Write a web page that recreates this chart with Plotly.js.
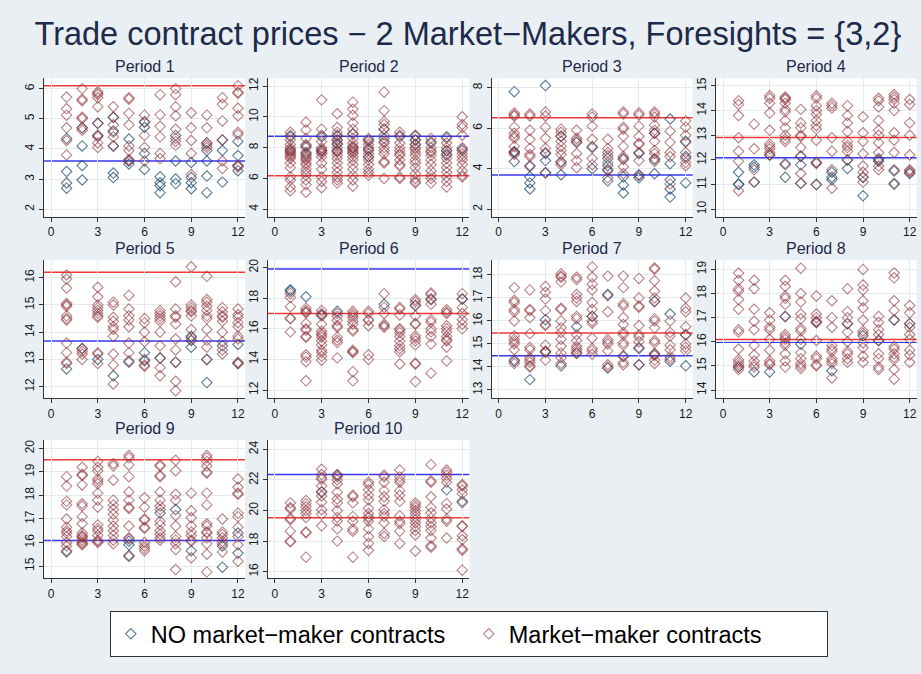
<!DOCTYPE html>
<html>
<head>
<meta charset="utf-8">
<script src="https://cdn.plot.ly/plotly-3.0.1.min.js"></script>
<style>html,body{margin:0;padding:0;background:#e9eff3;}#chart{width:921px;height:674px;}</style>
</head>
<body>
<div id="chart"></div>
<script>
// ---------- DATA ----------
const periods = ["Period 1","Period 2","Period 3","Period 4","Period 5","Period 6","Period 7","Period 8","Period 9","Period 10"];
const xTicks = [0, 3, 6, 9, 12];
const yTicks = [
  [2,3,4,5,6], [4,6,8,10,12], [2,4,6,8], [10,11,12,13,14,15],
  [12,13,14,15,16], [12,14,16,18,20], [13,14,15,16,17,18], [14,15,16,17,18,19],
  [15,16,17,18,19,20], [16,18,20,22,24]
];
// horizontal reference lines
const redLine  = [6.10, 6.17, 6.51, 12.91, 16.20, 17.00, 15.48, 16.09, 19.52, 19.52];
const blueLine = [3.60, 8.74, 3.69, 12.09, 13.68, 19.91, 14.49, 15.98, 16.08, 22.35];

// Each series: 12 lists of prices, one list per x = 1..12
const no1 = [[4.35,3.25,2.87,2.7],[4.7,4.1,3.45,2.97],[4.85,4.45],[5.05,4.6,4.1,3.2,3.05],[4.33,3.6,3.5],[4.9,4.72,3.85,3.32],[3.08,2.88,2.78,2.55],[4.45,3.6,3.0,2.85],[3.55,3.05,2.88,2.68],[4.2,3.95,3.6,3.1,2.55],[4.3,3.95,2.9],[4.25,3.78,3.45,3.28]];
const mm1 = [[5.72,5.33,5.12,4.7,4.28,3.8],[6.0,5.65,5.6,5.05,5.0,4.7,4.62],[5.9,5.85,5.8,5.7,5.4,4.85,4.45,4.4,4.2,4.05],[5.4,5.05,4.8,4.55,4.4,4.1],[5.7,5.65,5.18,4.8,4.1,3.95,3.65,3.6],[5.12,4.88,4.45,4.05,3.6],[5.8,5.13,4.75,4.4,3.85,3.68],[6.0,5.8,5.4,5.1,4.65,4.35,4.25,4.12],[5.2,4.7,4.28,3.85,3.15],[5.12,4.7,4.2,4.12,4.05],[5.7,5.48,4.93,4.3,3.6,3.35],[6.1,5.88,5.85,5.35,5.1,4.55,4.48,3.45,3.4]];

const no2 = [[8.7,7.8],[8.1,7.6],[8.7,7.8],[8.8,8.5,8.2,7.8],[8.9,8.0],[8.5,7.9,7.4],[9.2,8.6],[8.7],[8.75,8.5,8.2],[8.3],[8.7,7.8,7.5],[7.9]];
const mm2 = [[9.0,8.8,8.5,8.2,8.0,7.9,7.8,7.7,7.6,7.5,7.4,7.3,7.0,6.7,6.1,5.9,5.45,5.2],[9.65,9.15,8.6,8.2,8.0,7.7,7.5,7.4,7.3,7.2,7.0,6.85,6.6,6.4,6.2,5.9,5.6,5.1],[11.1,9.2,8.8,8.4,8.0,7.9,7.8,7.7,7.6,7.4,7.0,6.6,6.1,5.8,5.4],[10.2,9.3,9.0,8.7,8.5,8.3,8.0,7.8,7.7,7.5,7.3,7.0,6.7,6.4,6.1,5.9,5.7],[10.95,10.5,10.1,9.6,9.2,8.9,8.6,8.3,8.1,8.0,7.9,7.8,7.7,7.6,7.4,7.2,6.9,6.6,6.2,5.9,5.5],[8.6,8.4,8.2,8.0,7.8,7.6,7.4,7.2,6.9,6.6,6.4,6.2],[11.6,10.4,9.7,9.5,9.2,8.8,8.4,8.3,8.0,7.8,7.6,7.1,7.0,6.0],[9.0,8.8,8.3,8.0,7.8,7.6,7.5,7.2,6.9,6.8,6.1,6.0],[8.8,8.5,8.2,8.0,7.9,7.7,7.5,7.2,7.0,6.7,6.3,6.0,5.8,5.7],[8.6,8.4,8.0,7.8,7.7,7.5,7.2,6.9,6.5,6.2,6.0,5.7],[8.6,8.3,8.0,7.8,7.6,7.3,7.0,6.7,6.4,6.1,5.8,5.45],[10.0,9.5,9.3,8.8,8.0,7.8,7.6,7.4,7.2,6.9,6.5,6.2,6.1]];

const no3 = [[7.8,4.85,4.8,4.35],[4.15,3.6,3.3,3.0],[8.1,4.75,4.4,3.8],[5.6,4.35,3.7],[5.3],[5.05,4.0],[4.5,4.15,3.95,3.4],[4.5,3.6,3.2,2.8],[4.75,3.7,3.55],[5.75,4.45,3.75],[6.45,4.25,3.45,3.0,2.6],[5.35,4.6,3.3]];
const mm3 = [[6.75,6.65,6.6,6.05,5.75,5.6,5.5,5.1,4.8,4.7],[6.7,6.6,5.9,5.45,5.0,4.7,4.6,4.1],[6.8,6.6,6.05,5.5,5.0,4.8,3.8],[5.95,5.8,5.6,5.35,5.1,4.9,4.7,4.3,4.2],[5.9,5.5,5.4,5.3,4.75,4.4,4.05],[6.7,6.55,6.1,5.45,5.1,4.5,4.2],[5.45,5.0,4.8,4.65,4.3,3.9,3.55],[6.8,6.7,6.05,5.95,5.6,5.1,4.6,4.45,4.1,3.75],[6.75,6.65,6.1,5.6,5.25,5.2,4.8,4.4,3.65],[6.8,6.7,6.55,6.15,5.9,5.75,5.35,4.9,4.75,4.5,4.35],[5.85,5.3,4.8,4.6,3.25],[6.35,6.05,5.65,5.3,4.8,4.5,4.3,4.15]];

const no4 = [[11.5,11.0,11.02],[11.8,11.7,11.1],[12.2],[11.85,11.3],[12.15,11.8,11.05],[11.9,11.0],[11.5,11.3,11.2],[12.0,11.65],[11.3,10.55],[12.05,11.95],[11.55,11.05],[11.45]];
const mm4 = [[14.4,14.25,13.8,12.9,12.35,11.95,10.75],[13.45,12.45,11.6,11.1],[14.6,14.5,14.3,13.9,13.2,12.65,12.55,12.45,12.3,12.2],[14.55,14.5,14.45,14.3,14.05,13.95,13.6,13.3,13.0,12.85,12.75,11.8],[14.05,13.5,13.3,13.0,12.95,12.5,12.15,11.45,11.05],[14.6,14.5,14.2,14.0,13.85,13.6,13.4,13.25,12.8,11.9,11.85,11.0],[14.3,14.2,14.1,12.9,12.35,11.6,10.85],[14.2,13.8,13.5,13.15,12.75,12.6,12.5,12.35,12.0],[13.75,13.1,12.75,12.25,11.75,11.5,11.3,11.1],[14.5,14.4,14.15,13.6,13.2,13.0,12.7,12.3,12.0,11.75,11.6],[14.65,14.55,14.45,14.3,14.0,13.1,12.8,12.3,11.6,11.0],[14.45,14.25,13.5,13.0,12.2,11.6,11.55,11.5]];

const no5 = [[12.65],[13.4],[13.0],[12.4],[12.9],[13.25,12.95],[13.05],[12.9],[13.85,13.7,13.45],[13.0,12.15],[13.5],[13.55,12.85]];
const mm5 = [[16.1,15.95,15.62,15.05,15.0,14.95,14.6,14.5,14.45,13.6,13.25,12.9,12.85],[13.4,13.3,13.2,13.0],[15.65,15.3,15.0,14.9,14.8,14.7,14.6,14.55,13.25,13.2,12.85],[15.1,15.0,14.55,14.4,14.2,14.1,13.85,13.2,12.8,12.1],[15.35,14.85,14.6,14.45,14.2,13.6,13.25,12.95],[14.5,14.35,14.0,13.65,13.0,12.8,12.75],[14.8,14.7,14.6,14.5,14.4,14.0,13.5,13.05,12.7,12.4],[15.85,14.85,14.6,14.55,14.3,13.75,13.35,12.9,12.2,11.85],[16.4,15.0,14.9,14.8,14.75,14.6,14.1,13.8,13.7],[16.05,15.2,15.1,14.95,14.8,14.6,14.5,14.1,13.7,13.45,13.0],[14.9,14.75,14.6,14.55,14.4,14.0,13.65,13.35,13.2],[14.85,14.65,14.55,14.35,14.2,13.85,13.75,12.9,12.85]];

const no6 = [[18.55,18.45],[18.1],[16.9],[17.15],[],[],[17.6],[],[17.55],[17.95],[],[17.95]];
const mm6 = [[18.3,18.05,17.45,16.7,16.65,15.8],[17.35,17.2,17.1,17.05,16.35,16.0,15.9,15.5,15.45,14.3,14.15,13.85,12.6],[17.2,17.0,16.85,16.3,15.85,15.7,15.6,15.45,15.2,14.95,14.6,14.45,14.2,13.95],[17.0,16.8,16.55,16.2,16.1,15.45,15.25,15.1,14.1],[17.15,17.0,16.85,16.7,16.5,16.3,15.95,15.85,14.6,14.5,14.45,13.2,12.6],[17.15,17.0,16.6,16.55,16.2,14.3,14.0],[18.3,17.4,17.0,16.3,16.2,16.1],[17.4,17.3,16.9,16.0,15.9,15.75,15.5,15.2,14.9,14.7,14.5,13.7],[17.9,17.75,17.5,16.85,16.35,16.3,15.55,15.4,15.2,14.95,13.75,13.7,12.55],[18.35,18.25,17.9,17.6,16.6,16.45,16.0,15.8,15.5,15.0,13.1],[17.25,17.1,17.0,16.2,16.0,15.8,15.5,15.3,15.2,14.8,13.9],[18.3,17.95,17.4,17.0,16.6,16.3,16.0]];

const no7 = [[14.25],[13.45],[16.05,14.65],[14.05],[15.75,14.6],[16.2],[17.15,13.95],[14.45],[14.8,14.1],[16.85,14.55],[16.3,14.25],[15.4,14.05]];
const mm7 = [[17.45,16.9,16.8,16.5,16.4,16.0,15.35,15.2,15.1,15.0,14.75,14.3,14.15],[17.35,16.5,16.45,16.15,15.45,14.85,14.75,14.4,14.3,14.2,14.05,14.0],[17.5,17.25,16.95,16.45,15.85,15.8,14.95,14.7,14.65,14.3],[18.05,17.95,17.9,17.7,16.55,16.5,16.0,15.7,15.5,15.2,14.9,14.6,14.4,14.15],[17.9,17.8,17.15,17.0,16.85,16.2,16.1,15.4,15.15,14.9,14.8,14.7,14.6],[18.35,17.9,17.6,17.35,16.8,16.5,16.2,16.0,15.9,15.25,14.8,14.7,14.55],[17.95,17.1,16.4,15.2,15.1,15.0,14.7,14.1,14.0],[17.95,17.45,16.75,16.65,16.15,15.85,15.5,15.4,15.05,14.95,14.5,14.2,14.1],[17.85,17.0,16.65,16.6,15.8,15.4,15.3,15.1,14.85,14.1],[18.3,18.25,17.75,17.3,17.0,16.85,16.1,16.0,15.7,15.15,15.05,14.6,14.5,14.3,14.15],[16.0,15.5,15.35,14.95,14.75,14.45,14.35],[17.0,16.55,16.4,15.75,15.4,15.0,14.85,14.7]];

const no8 = [[14.95],[14.75],[14.75],[17.05],[15.9],[16.8],[14.8],[16.75],[16.25],[16.05],[16.9],[16.75]];
const mm8 = [[18.85,18.55,18.2,18.1,17.75,17.35,16.5,16.4,15.7,15.25,15.15,15.05,14.95,14.85],[18.55,18.2,17.35,16.85,16.5,15.85,15.45,15.2,15.05,14.95],[17.2,16.9,16.6,16.5,16.1,15.65,15.2,15.1,15.05],[18.55,18.3,17.9,17.8,17.55,17.05,16.3,16.2,16.1,15.95,15.85,15.5,15.2,14.95],[19.05,18.0,17.65,17.15,16.95,16.55,16.45,16.1,15.55,15.3,15.1,15.0,14.9],[17.9,17.15,17.0,16.85,16.8,16.05,15.4,15.3,15.05,15.0],[17.7,17.0,16.6,15.85,15.7,15.6,15.3,15.2,15.1,14.5],[18.2,17.25,17.0,16.75,16.4,16.0,15.6,15.5,15.3,15.15],[19.0,18.35,18.15,17.7,17.4,16.9,16.45,16.35,15.95,15.75,15.4,15.15],[17.05,16.8,16.5,16.3,16.05,15.5,15.3,14.95,14.85],[18.85,18.65,17.7,17.3,16.9,15.8,15.7,15.5,15.35,15.25,14.85,14.45],[17.5,17.2,16.75,16.6,16.3,16.1,15.65,15.45,15.15]];

const no9 = [[15.6],[],[],[],[16.05,15.9,15.45],[],[17.25],[17.4],[15.65],[],[15.85,14.95],[16.4,15.55]];
const mm9 = [[18.8,18.4,17.75,17.6,17.0,16.65,16.5,16.4,16.25,16.0,15.85,15.65],[19.2,18.9,18.85,18.45,17.65,17.55,17.1,16.8,16.4,16.3,16.25,16.2,16.1,16.0,15.95,15.9],[19.45,19.2,19.05,18.7,18.6,18.5,18.1,17.8,17.5,16.75,16.6,16.5,16.3,16.1,16.05,16.0],[19.35,19.25,18.65,17.8,17.6,17.4,17.2,16.95,16.7,16.5,16.3,16.1,15.95],[19.7,19.6,19.3,18.8,18.15,17.8,17.5,17.45,16.7,16.2,16.15,15.4],[17.9,17.5,17.0,16.95,16.65,16.6,16.0,15.85,15.75,15.65],[19.3,19.25,18.85,18.8,18.15,17.8,17.55,17.4,16.9,16.75,16.5,16.35,16.2,16.1],[19.5,19.05,18.05,17.8,17.15,16.7,16.25,16.1,15.95,15.7,14.85],[18.1,17.35,17.05,16.7,16.45,16.3,16.1,16.05,15.35],[19.7,19.6,19.45,19.25,19.0,18.95,18.1,17.6,16.8,16.7,16.45,16.4,16.2,15.95,15.5,14.75],[17.0,16.45,16.35,16.2,16.05,15.95,15.6],[18.7,18.35,18.1,18.05,17.25,17.1,16.65,16.25,15.9,15.2]];

const no10 = [[],[],[21.2],[22.3],[],[],[],[],[],[],[21.35],[20.6]];
const mm10 = [[20.5,20.2,20.1,19.5,19.4,18.65,18.0,17.95],[20.65,20.45,20.25,20.0,19.8,19.55,18.6,18.55,16.95],[22.7,22.35,22.15,22.05,21.6,21.25,20.95,20.55,20.05,19.75,19.0],[22.35,22.2,22.0,21.75,21.2,20.75,20.5,20.0,19.55,19.3,18.8,18.0],[21.0,20.9,20.5,19.6,19.3,18.8,18.65,16.95],[21.85,21.7,21.35,21.0,20.7,20.15,19.8,19.6,19.5,19.3,18.8,18.3,17.85,17.4],[22.3,22.2,21.85,21.3,20.9,20.6,20.05,19.8,19.6,19.2,18.5,18.3],[22.65,22.2,22.0,21.85,21.3,21.0,20.6,19.65,19.3,19.15,18.65,17.85],[20.5,20.35,20.2,20.0,19.8,19.6,19.4,19.2,18.95,18.7,18.4,17.35],[23.0,21.95,21.85,20.9,20.2,19.85,19.5,19.2,18.95,18.7,18.2,17.7,17.6],[22.65,22.5,22.3,22.1,21.85,20.45,20.1,19.45,19.3,18.2],[21.7,21.6,21.35,21.1,20.5,19.0,18.95,18.35,18.1,17.5,17.4,16.1]];

const noSeries = [no1,no2,no3,no4,no5,no6,no7,no8,no9,no10];
const mmSeries = [mm1,mm2,mm3,mm4,mm5,mm6,mm7,mm8,mm9,mm10];
const seriesNames = ["NO market\u2212maker contracts", "Market\u2212maker contracts"];
const mainTitle = "Trade contract prices \u2212 2 Market\u2212Makers, Foresights = {3,2}";

// ---------- LAYOUT (pixels) ----------
const W = 921, H = 674;
const colPx = [[44,245],[267.7,469.3],[491.7,692.7],[716,916.7]];
const rowPx = [[78.3,216.7],[260,398.3],[440,578.3]];
const yRanges = [[1.753,6.343],[3.517,12.50],[1.633,8.46],[9.698,15.31],
                 [11.574,16.65],[11.457,20.50],[12.639,18.65],[13.656,19.39],
                 [14.477,20.36],[15.569,24.61]];
const FONT = "Liberation Sans, Arial, Helvetica, sans-serif";
const navy = "rgba(26,71,111,0.72)";
const maroon = "rgba(144,53,59,0.62)";

function flatten(lists){
  const xs=[], ys=[];
  lists.forEach((vals,i)=>vals.forEach(v=>{xs.push(i+1); ys.push(v);}));
  return {xs, ys};
}

const traces = [], shapes = [], annotations = [];
const layout = {
  width: W, height: H, autosize: false,
  margin: {l:0,r:0,t:0,b:0},
  paper_bgcolor: "#e9eff3", plot_bgcolor: "#ffffff",
  font: {family: FONT, color: "#1a1a1a"},
  title: {text: mainTitle, x: 0.508, xanchor: "center", xref: "paper",
          y: 1 - 34/H, yanchor: "middle", yref: "container",
          font: {family: FONT, size: 32.5, color: "#1e2a4a"}},
  showlegend: true,
  legend: {orientation: "h", x: 0.509, xanchor: "center", y: 1 - 611/H, yanchor: "top",
           bgcolor: "#ffffff", bordercolor: "#333333", borderwidth: 1,
           font: {family: FONT, size: 23.5, color: "#000000"}, traceorder: "normal",
           itemwidth: 30, entrywidth: 313, entrywidthmode: "pixels"}
};

for (let p = 0; p < 10; p++) {
  const r = Math.floor(p/4), c = p % 4;
  const n = p + 1;
  const xa = "xaxis" + (n===1 ? "" : n), ya = "yaxis" + (n===1 ? "" : n);
  const xr = "x" + (n===1 ? "" : n), yr = "y" + (n===1 ? "" : n);
  layout[xa] = {
    domain: [colPx[c][0]/W, colPx[c][1]/W], anchor: yr,
    range: [-0.45, 12.45], tickvals: xTicks, ticktext: xTicks.map(String),
    ticks: "outside", ticklen: 4, tickcolor: "#333", tickwidth: 1,
    showline: true, linecolor: "#333", linewidth: 1,
    showgrid: true, gridcolor: "#e4eaee", gridwidth: 1, zeroline: false,
    tickfont: {family: FONT, size: 12, color: "#1a1a1a"}, fixedrange: true
  };
  layout[ya] = {
    domain: [1 - rowPx[r][1]/H, 1 - rowPx[r][0]/H], anchor: xr,
    range: yRanges[p], tickvals: yTicks[p], ticktext: yTicks[p].map(String),
    tickangle: -90, ticks: "outside", ticklen: 4, tickcolor: "#333", tickwidth: 1,
    showline: true, linecolor: "#333", linewidth: 1,
    showgrid: true, gridcolor: "#e4eaee", gridwidth: 1, zeroline: false,
    tickfont: {family: FONT, size: 12, color: "#1a1a1a"}, fixedrange: true
  };
  const a = flatten(noSeries[p]), b = flatten(mmSeries[p]);
  traces.push({type: "scatter", mode: "markers", x: a.xs, y: a.ys, xaxis: xr, yaxis: yr,
    name: seriesNames[0], legendgroup: "no", showlegend: p===0,
    marker: {symbol: "diamond-open", size: 8, color: navy, line: {width: 1.1}}});
  traces.push({type: "scatter", mode: "markers", x: b.xs, y: b.ys, xaxis: xr, yaxis: yr,
    name: seriesNames[1], legendgroup: "mm", showlegend: p===0,
    marker: {symbol: "diamond-open", size: 8, color: maroon, line: {width: 1.1}}});
  shapes.push({type: "line", xref: xr + " domain", yref: yr, x0: 0, x1: 1, y0: redLine[p], y1: redLine[p],
    line: {color: "rgba(240,20,20,0.85)", width: 1.5}, layer: "below"});
  shapes.push({type: "line", xref: xr + " domain", yref: yr, x0: 0, x1: 1, y0: blueLine[p], y1: blueLine[p],
    line: {color: "rgba(20,20,240,0.85)", width: 1.5}, layer: "below"});
  annotations.push({text: periods[p], xref: "paper", yref: "paper",
    x: (colPx[c][0] + colPx[c][1]) / 2 / W, y: 1 - rowPx[r][0]/H, xanchor: "center", yanchor: "bottom",
    yshift: 1, showarrow: false, font: {family: FONT, size: 16, color: "#1e2a4a"}});
}
layout.shapes = shapes;
layout.annotations = annotations;

Plotly.newPlot("chart", traces, layout, {staticPlot: true, displayModeBar: false});
</script>
</body>
</html>
